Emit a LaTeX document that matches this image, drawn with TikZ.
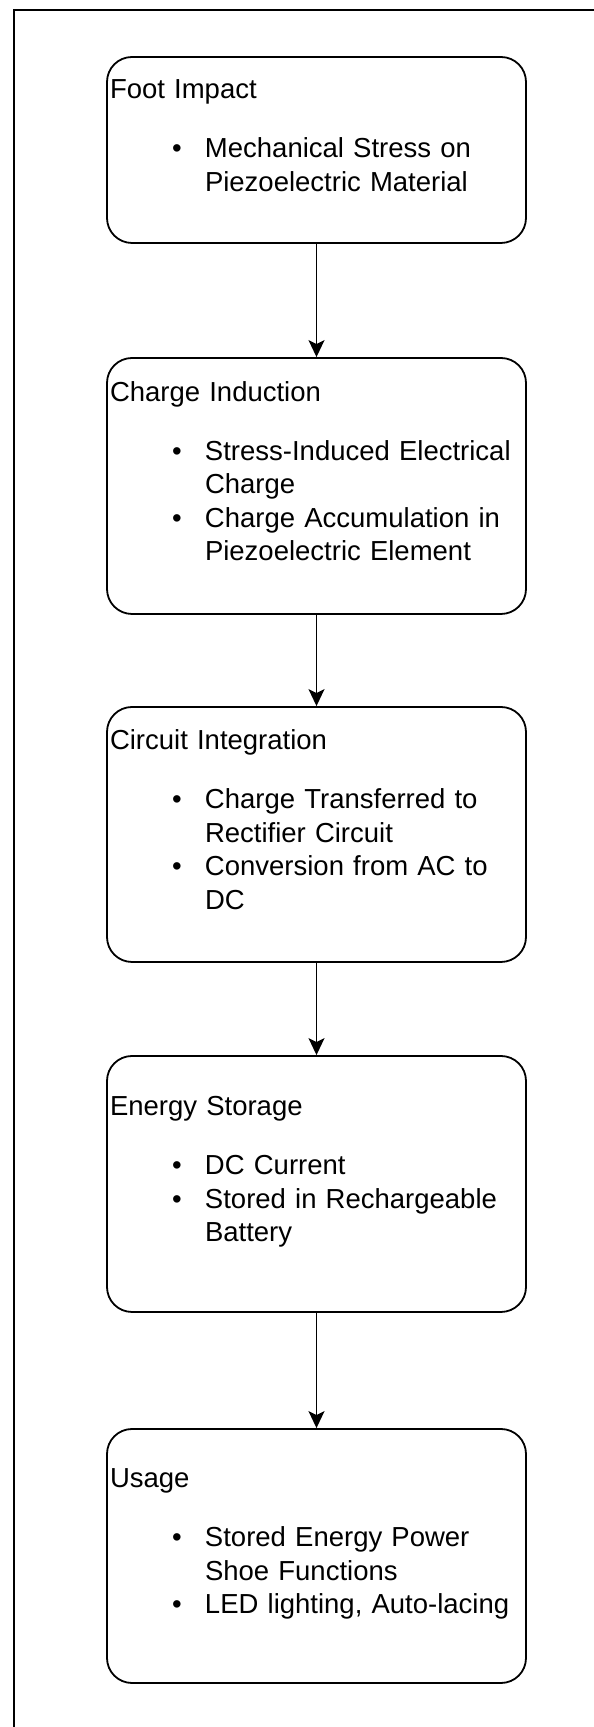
\documentclass[tikz,border=0pt]{standalone}
\usepackage{fontspec}
\setmainfont{Liberation Sans}
\usetikzlibrary{arrows.meta}

\newcommand{\stageitem}[1]{\hspace*{62pt}\makebox[33pt][l]{\textbullet}#1}
\newcommand{\stagecont}[1]{\hspace*{95pt}#1}

\begin{document}
\begin{tikzpicture}[x = 1pt, y = 1pt,
            stagebox/.style = {draw, line width = 1.8pt, rounded corners = 25pt,
                text width = 413pt, inner xsep = 3pt, inner ysep = 0pt, align = left,
                text height = 20pt, font = \fontsize{27.5pt}{33.5pt}\selectfont},
            flow/.style = {-{Stealth[length = 17pt, width = 16pt, inset = 4pt]}, line width = 1.8pt}]
            \useasboundingbox (0,0) rectangle (594,1727);
            \draw [line width = 2.6pt] (14,0) -- (14,1717) -- (594,1717); % frame runs off the page
            \node [stagebox, minimum height = 186pt, text depth = 122.5pt] (foot) at (316.5,1577) {Foot Impact\\[25.5pt]
                \stageitem{Mechanical Stress on}\\
                \stagecont{Piezoelectric Material}};
            \node [stagebox, minimum height = 256pt, text depth = 189.5pt] (charge) at (316.5,1241) {Charge Induction\\[25.5pt]
                \stageitem{Stress-Induced Electrical}\\
                \stagecont{Charge}\\
                \stageitem{Charge Accumulation in}\\
                \stagecont{Piezoelectric Element}};
            \node [stagebox, minimum height = 255pt, text depth = 189.5pt] (circuit) at (316.5,892.5) {Circuit Integration\\[25.5pt]
                \stageitem{Charge Transferred to}\\
                \stagecont{Rectifier Circuit}\\
                \stageitem{Conversion from AC to}\\
                \stagecont{DC}};
            \node [stagebox, minimum height = 256pt, text depth = 156pt] (storage) at (316.5,543) {Energy Storage\\[25.5pt]
                \stageitem{DC Current}\\
                \stageitem{Stored in Rechargeable}\\
                \stagecont{Battery}};
            \node [stagebox, minimum height = 254pt, text depth = 156pt] (usage) at (316.5,171) {Usage\\[25.5pt]
                \stageitem{Stored Energy Power}\\
                \stagecont{Shoe Functions}\\
                \stageitem{LED lighting, Auto-lacing}};
            \draw [flow] (foot) -- (charge);
            \draw [flow] (charge) -- (circuit);
            \draw [flow] (circuit) -- (storage);
            \draw [flow] (storage) -- (usage);
        \end{tikzpicture}
\end{document}
